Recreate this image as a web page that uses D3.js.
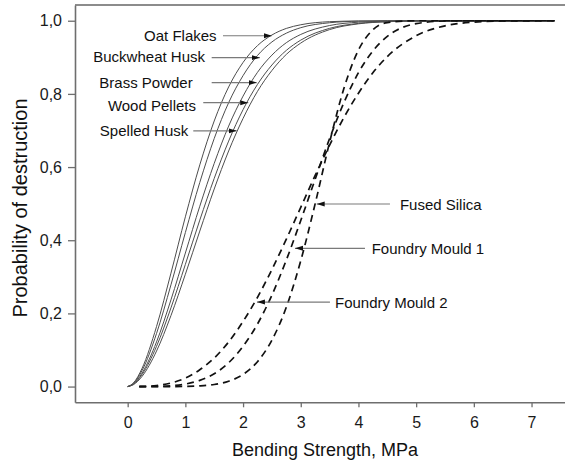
<!DOCTYPE html>
<html>
<head>
<meta charset="utf-8">
<script src="https://cdn.jsdelivr.net/npm/d3@7"></script>
<style>
body { margin: 0; background: #fff; }
svg { display: block; font-family: "Liberation Sans", Arial, sans-serif; }
</style>
</head>
<body>
<svg id="chart" width="565" height="463"></svg>
<script>
// values
var solidX = [0, 0.1, 0.25, 0.5, 0.75, 1.0, 1.25, 1.5, 1.75, 2.0, 2.25, 2.5, 2.75, 3.0, 3.5, 4.0, 4.5, 5.0, 7.4];
var oatFlakes     = [0, 0.0098, 0.050, 0.164, 0.310, 0.464, 0.606, 0.726, 0.819, 0.886, 0.932, 0.961, 0.979, 0.989, 0.9974, 0.9994, 0.9999, 1, 1];
var buckwheatHusk = [0, 0.0086, 0.044, 0.145, 0.278, 0.421, 0.558, 0.678, 0.776, 0.850, 0.905, 0.942, 0.966, 0.981, 0.9945, 0.9987, 0.9997, 1, 1];
var brassPowder   = [0, 0.0072, 0.037, 0.122, 0.237, 0.365, 0.493, 0.610, 0.712, 0.794, 0.859, 0.906, 0.940, 0.9625, 0.9869, 0.9960, 0.9989, 0.9997, 1];
var woodPellets   = [0, 0.0064, 0.033, 0.110, 0.215, 0.334, 0.455, 0.569, 0.671, 0.757, 0.826, 0.879, 0.919, 0.947, 0.9792, 0.9927, 0.9977, 0.9994, 1];
var spelledHusk   = [0, 0.0052, 0.028, 0.097, 0.194, 0.307, 0.425, 0.540, 0.644, 0.733, 0.807, 0.864, 0.908, 0.939, 0.9758, 0.9915, 0.9973, 0.9993, 1];

var dashedX = [0.2, 0.5, 0.75, 1.0, 1.25, 1.5, 1.75, 2.0, 2.25, 2.5, 2.75, 3.0, 3.25, 3.5, 3.75, 4.0, 4.25, 4.5, 5.0, 5.5, 6.0, 6.5, 7.4];
var fusedSilica   = [0, 0, 0, 0.0004, 0.0018, 0.0056, 0.0146, 0.033, 0.068, 0.127, 0.217, 0.344, 0.500, 0.668, 0.816, 0.920, 0.975, 0.9949, 1, 1, 1, 1, 1];
var foundryMould1 = [0, 0.0004, 0.002, 0.0069, 0.017, 0.035, 0.065, 0.110, 0.171, 0.250, 0.346, 0.454, 0.567, 0.678, 0.777, 0.858, 0.9175, 0.957, 0.992, 0.9992, 1, 1, 1];
var foundryMould2 = [0.0002, 0.0028, 0.0098, 0.023, 0.046, 0.078, 0.122, 0.178, 0.244, 0.320, 0.403, 0.490, 0.577, 0.660, 0.736, 0.802, 0.858, 0.902, 0.959, 0.9861, 0.9962, 0.9992, 1];

var xTicks = [0, 1, 2, 3, 4, 5, 6, 7];
var yTicks = [0, 0.2, 0.4, 0.6, 0.8, 1.0];

// labels with arrows: tip on the curve, tail and text anchor in data units
var annoNames = ['Oat Flakes', 'Buckwheat Husk', 'Brass Powder', 'Wood Pellets', 'Spelled Husk', 'Fused Silica', 'Foundry Mould 1', 'Foundry Mould 2'];
var annoTipX  = [2.50, 2.29, 2.236, 2.09, 1.889, 3.276, 2.90, 2.241];
var annoTipY  = [0.959, 0.899, 0.831, 0.776, 0.699, 0.499, 0.378, 0.231];
var annoTailX = [1.652, 1.456, 1.456, 1.31, 1.137, 4.546, 4.113, 3.506];
var annoTextX = [1.542, 1.340, 1.127, 1.184, 1.050, 4.719, 4.229, 3.593];
var annoTextY = [0.945, 0.888, 0.817, 0.753, 0.685, 0.484, 0.363, 0.216];

var svg = d3.select('#chart');

var x = d3.scaleLinear().domain([-0.913, 7.58]).range([75, 565]);
var y = d3.scaleLinear().domain([-0.043, 1.043]).range([402.3, 5]);

var commaFormat = d3.formatLocale({ decimal: ',', thousands: '.', grouping: [3], currency: ['', ''] }).format('.1f');

var defs = svg.append('defs');
defs.append('marker')
    .attr('id', 'head')
    .attr('markerUnits', 'userSpaceOnUse')
    .attr('markerWidth', 9).attr('markerHeight', 6)
    .attr('refX', 8).attr('refY', 3)
    .attr('orient', 'auto')
    .append('path')
    .attr('d', 'M0,0.5 L8,3 L0,5.5 Z')
    .attr('fill', '#111');

// frame top line (right side runs off the picture)
svg.append('line')
    .attr('x1', x.range()[0]).attr('x2', x.range()[1])
    .attr('y1', y.range()[1]).attr('y2', y.range()[1])
    .attr('stroke', '#8c8c8c').attr('stroke-width', 2);

var xAxis = svg.append('g')
    .attr('transform', 'translate(0,' + y.range()[0] + ')')
    .call(d3.axisBottom(x).tickValues(xTicks).tickSize(5).tickSizeOuter(0).tickPadding(9).tickFormat(d3.format('d')));

var yAxis = svg.append('g')
    .attr('transform', 'translate(' + x.range()[0] + ',0)')
    .call(d3.axisLeft(y).tickValues(yTicks).tickSize(7).tickSizeOuter(0).tickPadding(6).tickFormat(commaFormat));

[xAxis, yAxis].forEach(function(g) {
    g.select('.domain').attr('stroke', '#6e6e6e').attr('stroke-width', 1.6);
    g.selectAll('.tick line').attr('stroke', '#6e6e6e').attr('stroke-width', 1.3);
    g.selectAll('.tick text').attr('fill', '#1a1a1a').style('font-size', '16px').style('font-family', '"Liberation Sans", Arial, sans-serif');
});

svg.append('text')
    .attr('x', 325).attr('y', 456)
    .attr('text-anchor', 'middle')
    .style('font-size', '18px')
    .attr('fill', '#111')
    .text('Bending Strength, MPa');

svg.append('text')
    .attr('transform', 'translate(27,208) rotate(-90)')
    .attr('text-anchor', 'middle')
    .style('font-size', '20px')
    .attr('fill', '#111')
    .text('Probability of destruction');

var line = d3.line()
    .x(function(d) { return x(d[0]); })
    .y(function(d) { return y(d[1]); })
    .curve(d3.curveMonotoneX);

var plot = svg.append('g');

[oatFlakes, buckwheatHusk, brassPowder, woodPellets, spelledHusk].forEach(function(vals) {
    plot.append('path')
        .datum(d3.zip(solidX, vals))
        .attr('d', line)
        .attr('fill', 'none')
        .attr('stroke', '#4d4d4d')
        .attr('stroke-width', 1);
});

[fusedSilica, foundryMould1, foundryMould2].forEach(function(vals) {
    plot.append('path')
        .datum(d3.zip(dashedX, vals))
        .attr('d', line)
        .attr('fill', 'none')
        .attr('stroke', '#111')
        .attr('stroke-width', 1.7)
        .attr('stroke-dasharray', '7,5');
});

var annos = svg.append('g');
annoNames.forEach(function(name, i) {
    annos.append('line')
        .attr('x1', x(annoTailX[i])).attr('y1', y(annoTipY[i]))
        .attr('x2', x(annoTipX[i])).attr('y2', y(annoTipY[i]))
        .attr('stroke', '#7a7a7a')
        .attr('stroke-width', 1.2)
        .attr('marker-end', 'url(#head)');
    annos.append('text')
        .attr('x', x(annoTextX[i])).attr('y', y(annoTextY[i]))
        .attr('text-anchor', i < 5 ? 'end' : 'start')
        .style('font-size', '15px')
        .attr('fill', '#111')
        .text(name);
});
</script>
</body>
</html>
